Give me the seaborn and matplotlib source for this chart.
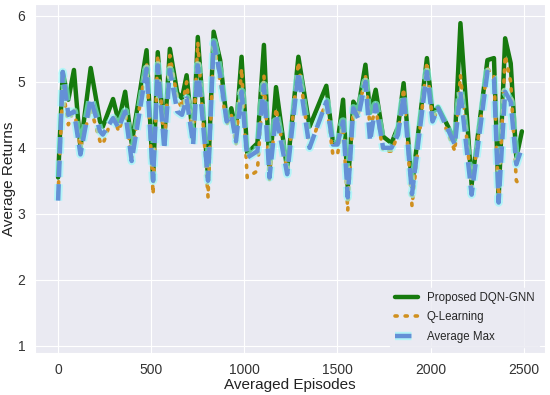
import pandas as pd
import matplotlib.pyplot as plt
import matplotlib.patheffects as pe
import seaborn as sns

# episodes (x) shared by all three curves
episodes = [0, 25, 55, 85, 120, 175, 225, 240, 295, 325, 360, 395, 475, 510, 535,
            570, 600, 640, 665, 690, 725, 750, 805, 835, 870, 905, 930, 955, 985,
            1015, 1070, 1105, 1135, 1170, 1230, 1290, 1350, 1440, 1475, 1500, 1530,
            1555, 1585, 1610, 1650, 1675, 1705, 1745, 1790, 1825, 1855, 1900, 1980,
            2010, 2040, 2130, 2160, 2220, 2305, 2340, 2365, 2400, 2430, 2460, 2490]

dqn_gnn = [3.55, 5.15, 4.73, 5.18, 4.0, 5.21, 4.4, 4.32, 4.74, 4.4, 4.85, 4.07, 5.48,
           3.52, 5.45, 4.12, 5.5, 4.83, 4.75, 5.1, 4.12, 5.68, 3.55, 5.76, 5.33, 4.42,
           4.6, 4.27, 5.38, 3.92, 4.07, 5.56, 3.67, 4.92, 3.67, 5.38, 4.32, 4.94, 4.1,
           4.07, 4.73, 3.4, 4.7, 4.58, 5.26, 4.53, 4.88, 4.17, 4.07, 4.32, 4.98, 3.41,
           5.36, 4.53, 4.62, 4.12, 5.89, 3.44, 5.33, 5.36, 3.22, 5.66, 5.28, 3.85, 4.25]

q_learning = [3.3, 4.9, 4.35, 4.6, 4.0, 4.6, 4.1, 4.05, 4.5, 4.25, 4.55, 3.85, 5.3,
              3.3, 5.4, 4.05, 5.4, 4.75, 4.6, 5.0, 4.1, 5.6, 3.25, 5.6, 5.0, 4.35,
              4.5, 4.05, 5.2, 3.55, 3.65, 5.1, 3.5, 4.6, 3.65, 5.3, 4.0, 4.7, 3.9,
              3.9, 4.4, 3.05, 4.6, 4.5, 5.1, 4.3, 4.6, 3.95, 3.95, 4.2, 4.9, 3.12,
              5.3, 4.4, 4.6, 3.95, 5.1, 3.4, 5.2, 5.1, 3.2, 5.4, 5.0, 3.5, 3.4]

avg_max = [3.2, 5.15, 4.5, 4.55, 3.9, 4.75, 4.25, 4.2, 4.45, 4.3, 4.55, 3.8, 5.2,
           3.5, 5.25, 3.98, 5.18, 4.55, 4.5, 4.75, 4.05, 5.25, 3.5, 5.6, 5.1, 4.4,
           4.5, 4.1, 4.85, 3.85, 3.95, 4.95, 3.55, 4.5, 3.6, 5.15, 4.0, 4.7, 4.05,
           4.05, 4.4, 3.25, 4.6, 4.45, 5.0, 4.1, 4.65, 4.0, 4.0, 4.2, 4.8, 3.3,
           5.15, 4.4, 4.6, 4.05, 4.85, 3.29, 5.15, 5.05, 3.17, 4.85, 4.7, 3.75, 4.0]

df = pd.DataFrame({'episodes': episodes, 'dqn_gnn': dqn_gnn,
                   'q_learning': q_learning, 'avg_max': avg_max})

sns.set_style('darkgrid')
plt.rcParams['font.family'] = ['Liberation Sans', 'DejaVu Sans']

fig, ax = plt.subplots(figsize=(5.5, 3.95), dpi=100)
fig.subplots_adjust(left=35/550, right=545/550, top=1-4/395, bottom=1-353/395)

sns.lineplot(x='episodes', y='dqn_gnn', data=df, ax=ax, color='#167a0e',
             linewidth=3.2, label='Proposed DQN-GNN')
sns.lineplot(x='episodes', y='q_learning', data=df, ax=ax, color='#d0901f',
             linewidth=2.6, linestyle=(0, (0.6, 2.2)), dash_capstyle='round',
             label='Q-Learning')
sns.lineplot(x='episodes', y='avg_max', data=df, ax=ax, color='#6490d6',
             linewidth=3.2, linestyle='--', label='Average Max',
             path_effects=[pe.Stroke(linewidth=6, foreground='#8ffcfc', alpha=0.6),
                           pe.Normal()])

ax.set_xlim(-124, 2614)
ax.set_ylim(0.89, 6.18)
ax.set_xticks([0, 500, 1000, 1500, 2000, 2500])
ax.set_yticks([1, 2, 3, 4, 5, 6])
ax.tick_params(labelsize=10, colors='#333333')
ax.set_xlabel('Averaged Episodes', fontsize=11, color='#222222', labelpad=1)
ax.set_ylabel('Average Returns', fontsize=11, color='#222222', labelpad=1)
ax.legend(loc='lower right', fontsize=8.3, frameon=True, facecolor='#EAEAF2',
          edgecolor='#EAEAF2', labelspacing=0.62)

plt.savefig('out.png')
